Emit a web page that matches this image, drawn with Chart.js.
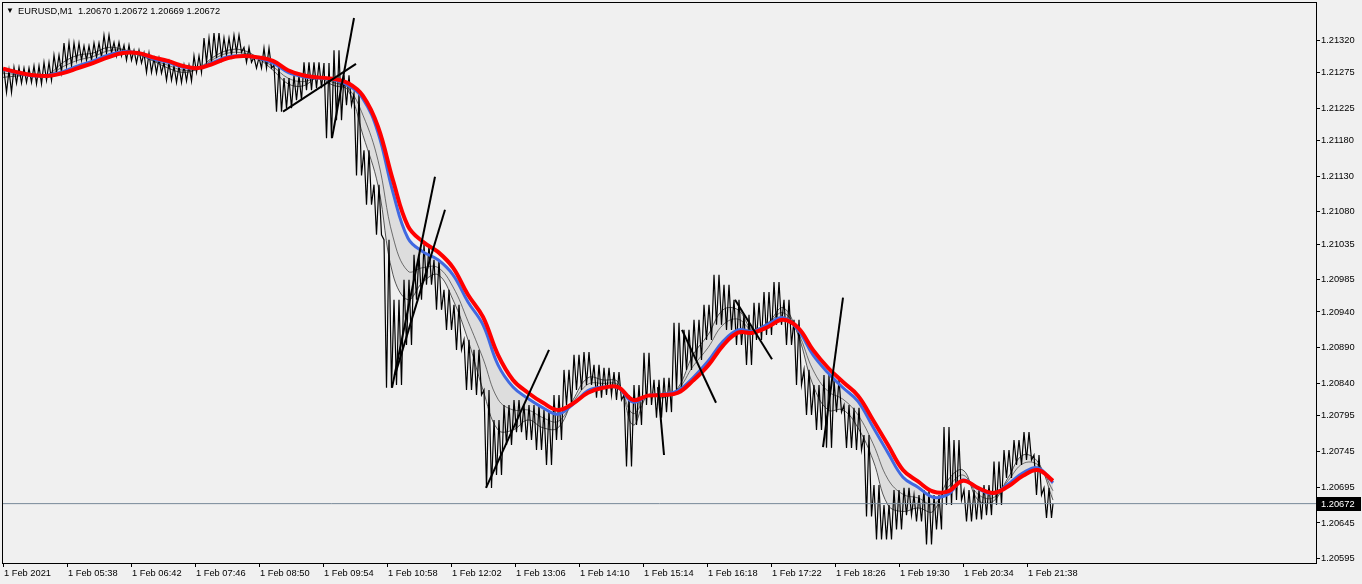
<!DOCTYPE html>
<html>
<head>
<meta charset="utf-8">
<script src="https://cdn.jsdelivr.net/npm/chart.js@4.4.1/dist/chart.umd.min.js"></script>
<style>
html, body { margin: 0; padding: 0; background: #f0f0f0; }
#wrap { position: relative; width: 1362px; height: 584px; }
.hdr { position: absolute; top: 5px; line-height: 12px; font-family: "Liberation Sans", Arial, sans-serif; color: #000; white-space: pre; }
#arrow { left: 6px; font-size: 8px; }
#title { left: 18px; font-size: 9.3px; }
</style>
</head>
<body>
<div id="wrap">
  <canvas id="chart" width="1362" height="584"></canvas>
  <div class="hdr" id="arrow">▼</div>
  <div class="hdr" id="title">EURUSD,M1  1.20670 1.20672 1.20669 1.20672</div>
</div>
<script>
// EURUSD M1, one bar per pixel; bar 0 = 1 Feb 2021 04:34
var timeTicks = [0, 64, 128, 192, 256, 320, 384, 448, 512, 576, 640, 704, 768, 832, 896, 960, 1024];
var timeLabels = ['1 Feb 2021', '1 Feb 05:38', '1 Feb 06:42', '1 Feb 07:46', '1 Feb 08:50', '1 Feb 09:54',
  '1 Feb 10:58', '1 Feb 12:02', '1 Feb 13:06', '1 Feb 14:10', '1 Feb 15:14', '1 Feb 16:18',
  '1 Feb 17:22', '1 Feb 18:26', '1 Feb 19:30', '1 Feb 20:34', '1 Feb 21:38'];
var priceTicks = [1.21320, 1.21275, 1.21225, 1.21180, 1.21130, 1.21080, 1.21035, 1.20985,
  1.20940, 1.20890, 1.20840, 1.20795, 1.20745, 1.20695, 1.20645, 1.20595];

// price range of every 10 bars (high / low)
var groupBars = 10;
var groupHigh = [
  1.21278, 1.21282, 1.21281, 1.21284, 1.21289, 1.21299, 1.21316, 1.21316, 1.21312, 1.21316,
  1.21327, 1.21317, 1.21313, 1.21306, 1.21302, 1.21295, 1.21289, 1.21284, 1.21285, 1.21298,
  1.21323, 1.21330, 1.21323, 1.21327, 1.21310, 1.21296, 1.21309, 1.21285, 1.21267, 1.21271,
  1.21289, 1.21289, 1.21288, 1.21306, 1.21271, 1.21246, 1.21166, 1.21118, 1.21041, 1.20957,
  1.20985, 1.21020, 1.21034, 1.21013, 1.20971, 1.20950, 1.20901, 1.20887, 1.20831, 1.20789,
  1.20810, 1.20817, 1.20810, 1.20810, 1.20803, 1.20824, 1.20859, 1.20880, 1.20884, 1.20866,
  1.20862, 1.20856, 1.20824, 1.20838, 1.20883, 1.20845, 1.20848, 1.20925, 1.20915, 1.20929,
  1.20950, 1.20992, 1.20978, 1.20957, 1.20936, 1.20953, 1.20968, 1.20982, 1.20957, 1.20929,
  1.20859, 1.20838, 1.20852, 1.20845, 1.20810, 1.20806, 1.20768, 1.20698, 1.20670, 1.20691,
  1.20694, 1.20684, 1.20691, 1.20684, 1.20779, 1.20761, 1.20691, 1.20691, 1.20698, 1.20731,
  1.20747, 1.20761, 1.20772, 1.20740, 1.20694
];
var groupLow = [
  1.21247, 1.21260, 1.21261, 1.21259, 1.21264, 1.21275, 1.21284, 1.21292, 1.21292, 1.21296,
  1.21302, 1.21298, 1.21292, 1.21288, 1.21275, 1.21274, 1.21264, 1.21261, 1.21263, 1.21275,
  1.21289, 1.21295, 1.21299, 1.21303, 1.21289, 1.21281, 1.21281, 1.21220, 1.21225, 1.21236,
  1.21250, 1.21253, 1.21183, 1.21208, 1.21229, 1.21131, 1.21090, 1.21048, 1.20834, 1.20838,
  1.20894, 1.20957, 1.20978, 1.20943, 1.20915, 1.20887, 1.20831, 1.20824, 1.20694, 1.20712,
  1.20754, 1.20772, 1.20761, 1.20747, 1.20726, 1.20761, 1.20810, 1.20831, 1.20838, 1.20820,
  1.20824, 1.20817, 1.20724, 1.20782, 1.20810, 1.20792, 1.20800, 1.20831, 1.20859, 1.20873,
  1.20901, 1.20922, 1.20915, 1.20894, 1.20866, 1.20901, 1.20908, 1.20922, 1.20894, 1.20838,
  1.20796, 1.20775, 1.20750, 1.20800, 1.20750, 1.20747, 1.20654, 1.20622, 1.20622, 1.20636,
  1.20656, 1.20647, 1.20615, 1.20636, 1.20670, 1.20677, 1.20647, 1.20650, 1.20656, 1.20670,
  1.20708, 1.20726, 1.20733, 1.20684, 1.20652
];
var lastBar = 1050;
var lastPrice = 1.20672;

// moving averages, one value every 15 bars
var maStep = 15;
var maRed = [
  1.21280, 1.21275, 1.21271, 1.21270, 1.21274, 1.21281, 1.21288, 1.21296, 1.21302, 1.21302,
  1.21296, 1.21291, 1.21284, 1.21281, 1.21287, 1.21295, 1.21298, 1.21296, 1.21291, 1.21278,
  1.21271, 1.21268, 1.21266, 1.21260, 1.21242, 1.21199, 1.21124, 1.21060, 1.21038, 1.21024,
  1.21002, 1.20964, 1.20933, 1.20880, 1.20845, 1.20827, 1.20813, 1.20803, 1.20812, 1.20827,
  1.20834, 1.20835, 1.20817, 1.20823, 1.20824, 1.20827, 1.20844, 1.20865, 1.20893, 1.20911,
  1.20911, 1.20919, 1.20929, 1.20918, 1.20887, 1.20862, 1.20842, 1.20823, 1.20789, 1.20754,
  1.20719, 1.20703, 1.20689, 1.20689, 1.20704, 1.20694, 1.20687, 1.20696, 1.20711, 1.20719,
  1.20704
];
var maBlue = [
  1.21279, 1.21274, 1.21270, 1.21271, 1.21276, 1.21284, 1.21291, 1.21299, 1.21304, 1.21302,
  1.21294, 1.21289, 1.21282, 1.21281, 1.21289, 1.21297, 1.21298, 1.21295, 1.21288, 1.21275,
  1.21269, 1.21267, 1.21265, 1.21257, 1.21238, 1.21191, 1.21107, 1.21043, 1.21024, 1.21013,
  1.20992, 1.20954, 1.20922, 1.20866, 1.20835, 1.20819, 1.20806, 1.20797, 1.20811, 1.20830,
  1.20835, 1.20834, 1.20814, 1.20823, 1.20825, 1.20830, 1.20848, 1.20871, 1.20899, 1.20915,
  1.20913, 1.20923, 1.20932, 1.20915, 1.20880, 1.20855, 1.20834, 1.20815, 1.20779, 1.20743,
  1.20709, 1.20695, 1.20681, 1.20685, 1.20705, 1.20693, 1.20686, 1.20699, 1.20715, 1.20722,
  1.20701
];
var maMid = [
  1.21274, 1.21272, 1.21271, 1.21271, 1.21283, 1.21292, 1.21297, 1.21305, 1.21306, 1.21301,
  1.21292, 1.21285, 1.21278, 1.21280, 1.21293, 1.21302, 1.21302, 1.21295, 1.21283, 1.21267,
  1.21262, 1.21267, 1.21261, 1.21253, 1.21215, 1.21152, 1.21045, 1.20997, 1.21002, 1.21002,
  1.20975, 1.20927, 1.20875, 1.20818, 1.20803, 1.20803, 1.20792, 1.20787, 1.20814, 1.20839,
  1.20840, 1.20838, 1.20798, 1.20823, 1.20822, 1.20832, 1.20864, 1.20890, 1.20922, 1.20930,
  1.20914, 1.20924, 1.20939, 1.20911, 1.20859, 1.20829, 1.20818, 1.20796, 1.20756, 1.20706,
  1.20685, 1.20680, 1.20671, 1.20695, 1.20712, 1.20685, 1.20680, 1.20704, 1.20728, 1.20726,
  1.20690
];
var maFast = [
  1.21268, 1.21270, 1.21271, 1.21272, 1.21289, 1.21299, 1.21302, 1.21310, 1.21307, 1.21300,
  1.21291, 1.21281, 1.21275, 1.21280, 1.21296, 1.21306, 1.21306, 1.21295, 1.21278, 1.21259,
  1.21256, 1.21267, 1.21257, 1.21250, 1.21187, 1.21117, 1.20992, 1.20957, 1.20982, 1.20992,
  1.20957, 1.20901, 1.20831, 1.20775, 1.20775, 1.20789, 1.20778, 1.20778, 1.20817, 1.20848,
  1.20845, 1.20842, 1.20782, 1.20824, 1.20820, 1.20834, 1.20880, 1.20908, 1.20943, 1.20943,
  1.20915, 1.20925, 1.20946, 1.20908, 1.20838, 1.20803, 1.20803, 1.20778, 1.20733, 1.20670,
  1.20661, 1.20666, 1.20661, 1.20705, 1.20719, 1.20677, 1.20675, 1.20708, 1.20740, 1.20730,
  1.20677
];

// hand drawn trend lines: bar1, price1, bar2, price2
var trendLines = [
  [280, 1.21220, 353, 1.21287],
  [329, 1.21183, 351, 1.21351],
  [389, 1.20834, 432, 1.21129],
  [392, 1.20852, 442, 1.21083],
  [483, 1.20694, 546, 1.20887],
  [679, 1.20915, 713, 1.20813],
  [655, 1.20835, 661, 1.20740],
  [732, 1.20957, 769, 1.20874],
  [820, 1.20751, 840, 1.20960]
];

var FONT = { family: '"Liberation Sans", Arial, sans-serif', size: 9.3 };

function maPoints(arr) {
  return arr.map(function (v, i) { return { x: i * maStep, y: v }; });
}

// each group drawn as a tight high/low scribble
var pricePts = [];
groupHigh.forEach(function (h, g) {
  var x0 = g * groupBars;
  pricePts.push({ x: x0 + 1, y: h });
  pricePts.push({ x: x0 + 3.5, y: groupLow[g] });
  pricePts.push({ x: x0 + 6, y: h });
  pricePts.push({ x: x0 + 8.5, y: groupLow[g] });
});
pricePts.push({ x: lastBar, y: lastPrice });

var datasets = [
  { data: maPoints(maFast), borderColor: 'rgba(60,60,60,0.85)', borderWidth: 1, tension: 0.4,
    fill: { target: 1 }, backgroundColor: 'rgba(0,0,0,0.08)', order: 7 },
  { data: maPoints(maBlue), borderColor: '#4169e1', borderWidth: 3, tension: 0.4, order: 4 },
  { data: maPoints(maRed), borderColor: '#ff0000', borderWidth: 4, tension: 0.4, order: 3 },
  { data: pricePts, borderColor: '#000000', borderWidth: 1.2, tension: 0, order: 5 },
  { data: [{ x: 0, y: lastPrice }, { x: 1313, y: lastPrice }], borderColor: '#778899', borderWidth: 1, order: 1 },
  { data: maPoints(maMid), borderColor: 'rgba(60,60,60,0.7)', borderWidth: 1, tension: 0.4, order: 6 }
];
trendLines.forEach(function (t) {
  datasets.push({ data: [{ x: t[0], y: t[1] }, { x: t[2], y: t[3] }], borderColor: '#000000', borderWidth: 2, order: 2 });
});

var framePlugin = {
  id: 'frame',
  beforeDraw: function (chart) {
    var ctx = chart.ctx;
    ctx.save();
    ctx.fillStyle = '#f0f0f0';
    ctx.fillRect(0, 0, chart.width, chart.height);
    ctx.restore();
  },
  afterDraw: function (chart) {
    var ctx = chart.ctx, a = chart.chartArea;
    ctx.save();
    ctx.strokeStyle = '#000';
    ctx.lineWidth = 1;
    ctx.strokeRect(Math.round(a.left) - 0.5, Math.round(a.top) - 0.5,
      Math.round(a.right - a.left) + 1, Math.round(a.bottom - a.top) + 1);
    var y = Math.round(chart.scales.y.getPixelForValue(lastPrice));
    ctx.fillStyle = '#000';
    ctx.fillRect(Math.round(a.right) + 1, y - 7, 44, 14);
    ctx.fillStyle = '#fff';
    ctx.font = FONT.size + 'px ' + FONT.family;
    ctx.textBaseline = 'middle';
    ctx.fillText(lastPrice.toFixed(5), Math.round(a.right) + 5, y + 0.5);
    ctx.restore();
  }
};

function noPad(s) {
  s.paddingLeft = 0; s.paddingRight = 0; s.paddingTop = 0; s.paddingBottom = 0;
}

new Chart(document.getElementById('chart'), {
  type: 'line',
  data: { datasets: datasets },
  options: {
    responsive: false,
    animation: false,
    events: [],
    layout: { padding: { left: 3, top: 3, right: 0, bottom: 0 } },
    elements: { point: { radius: 0 } },
    plugins: { legend: { display: false }, tooltip: { enabled: false } },
    scales: {
      x: {
        type: 'linear', min: 0, max: 1313,
        afterBuildTicks: function (s) { s.ticks = timeTicks.map(function (v) { return { value: v }; }); },
        afterFit: function (s) { s.height = 21; noPad(s); },
        grid: { drawOnChartArea: false, tickLength: 4, color: '#000' },
        border: { display: false },
        ticks: {
          autoSkip: false, maxRotation: 0, align: 'start', labelOffset: 1, padding: 1,
          color: '#000', font: FONT,
          callback: function (v) { var i = timeTicks.indexOf(v); return i < 0 ? '' : timeLabels[i]; }
        }
      },
      y: {
        position: 'right', min: 1.20589, max: 1.21372,
        afterBuildTicks: function (s) { s.ticks = priceTicks.map(function (v) { return { value: v }; }); },
        afterFit: function (s) { s.width = 46; noPad(s); },
        grid: { drawOnChartArea: false, tickLength: 4, color: '#000' },
        border: { display: false },
        ticks: {
          autoSkip: false, padding: 1, color: '#000', font: FONT,
          callback: function (v) { return v.toFixed(5); }
        }
      }
    }
  },
  plugins: [framePlugin]
});
</script>
</body>
</html>
